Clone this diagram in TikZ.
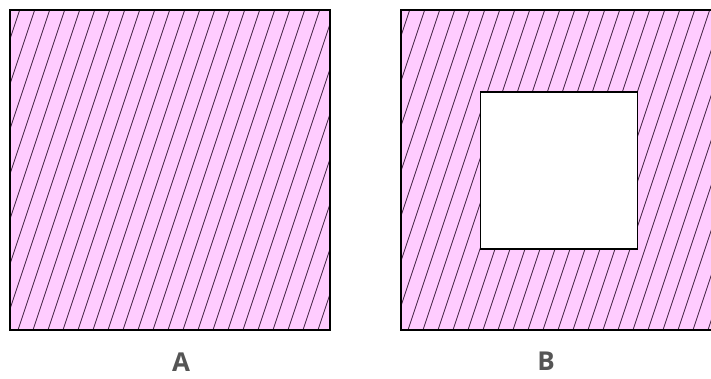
\documentclass[tikz,border=0pt]{standalone}
\usepackage{fontspec}
\setmainfont{Open Sans}
\definecolor{pinkfill}{HTML}{FFCCFF}
\definecolor{hatchcol}{HTML}{4A2A4A}
\definecolor{labelgray}{HTML}{555555}
\begin{document}
\begin{tikzpicture}[x=1pt,y=-1pt,
  hatch/.style={draw=hatchcol,line width=0.9pt},
  border/.style={draw=black,line width=1.6pt},
  lbl/.style={text=labelgray,font=\bfseries\fontsize{26}{28}\selectfont,inner sep=0pt,anchor=base}]
\useasboundingbox (0,0) rectangle (711,378);
% square A
\coordinate (a1) at (10,10);
\coordinate (a2) at (330,330);
\fill[pinkfill] (a1) rectangle (a2);
\begin{scope}
\clip (a1) rectangle (a2);
\foreach \c in {8,23,...,848} \draw[hatch] (\c,0) -- (\c-126,378);
\end{scope}
\draw[border] (a1) rectangle (a2);
% square B
\coordinate (b1) at (401,10);
\coordinate (b2) at (724,330);
\coordinate (i1) at (480.5,92);
\coordinate (i2) at (637.5,249);
\fill[pinkfill] (b1) rectangle (b2);
\begin{scope}
\clip (b1) rectangle (b2);
\foreach \c in {8,23,...,848} \draw[hatch] (\c,0) -- (\c-126,378);
\end{scope}
\fill[white] (i1) rectangle (i2);
\draw[border] (b1) rectangle (b2);
\draw[border] (i1) rectangle (i2);
% labels
\node[lbl] (la) at (181,371) {A};
\node[lbl] (lb) at (546,370) {B};
\end{tikzpicture}
\end{document}
